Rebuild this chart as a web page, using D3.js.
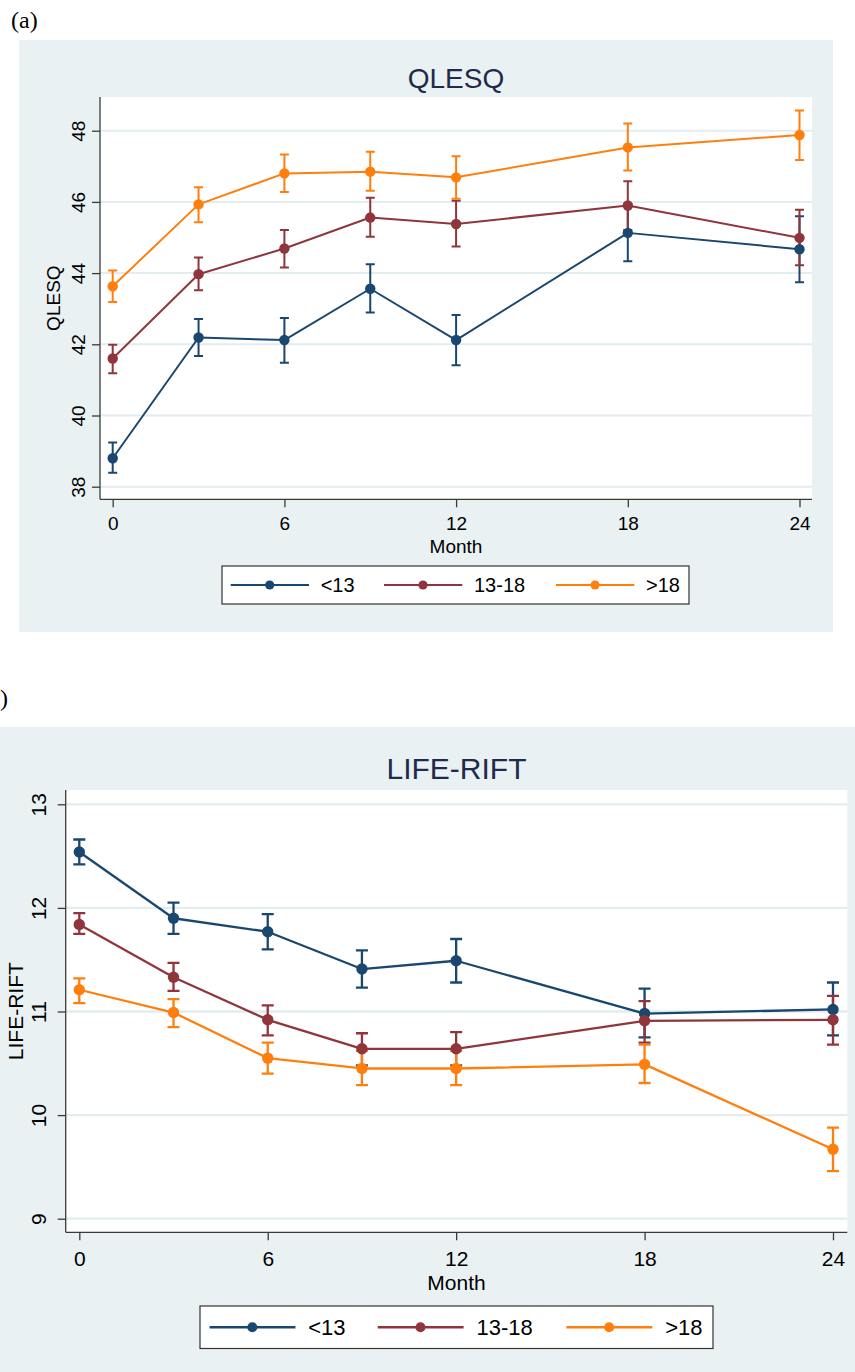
<!DOCTYPE html>
<html>
<head>
<meta charset="utf-8">
<script src="https://cdn.jsdelivr.net/npm/d3@7"></script>
<style>
  body { margin: 0; background: #fff; }
  svg { display: block; font-family: "Liberation Sans", Arial, sans-serif; }
</style>
</head>
<body>
<div class="chart"></div>
<script>
// ---- data ----
const months = [0, 3, 6, 9, 12, 18, 24];
const groups = ["<13", "13-18", ">18"];
const colors = ["#1a476f", "#90353b", "#ff7f0e"];

// panel (a) QLESQ
const qlesqTicks = [38, 40, 42, 44, 46, 48];
const qlesqLt13   = [38.80, 42.19, 42.12, 43.56, 42.12, 45.13, 44.67];
const qlesqLt13Lo = [38.39, 41.67, 41.48, 42.89, 41.41, 44.33, 43.74];
const qlesqLt13Hi = [39.24, 42.71, 42.74, 44.25, 42.82, 45.93, 45.60];
const qlesqMid    = [41.60, 43.97, 44.69, 45.56, 45.38, 45.90, 44.99];
const qlesqMidLo  = [41.19, 43.52, 44.16, 45.02, 44.75, 45.21, 44.22];
const qlesqMidHi  = [41.99, 44.44, 45.21, 46.12, 46.03, 46.58, 45.78];
const qlesqGt18   = [43.63, 45.93, 46.80, 46.85, 46.69, 47.53, 47.88];
const qlesqGt18Lo = [43.19, 45.43, 46.28, 46.31, 46.09, 46.88, 47.18];
const qlesqGt18Hi = [44.07, 46.41, 47.33, 47.41, 47.28, 48.20, 48.57];

// panel (b) LIFE-RIFT
const riftTicks = [9, 10, 11, 12, 13];
const riftLt13   = [12.54, 11.90, 11.77, 11.41, 11.49, 10.98, 11.02];
const riftLt13Lo = [12.42, 11.75, 11.60, 11.23, 11.28, 10.75, 10.77];
const riftLt13Hi = [12.66, 12.05, 11.94, 11.59, 11.70, 11.22, 11.28];
const riftMid    = [11.84, 11.33, 10.92, 10.64, 10.64, 10.91, 10.92];
const riftMidLo  = [11.75, 11.20, 10.77, 10.48, 10.48, 10.70, 10.68];
const riftMidHi  = [11.95, 11.47, 11.06, 10.79, 10.80, 11.10, 11.15];
const riftGt18   = [11.21, 10.99, 10.55, 10.45, 10.45, 10.49, 9.67];
const riftGt18Lo = [11.08, 10.85, 10.40, 10.29, 10.29, 10.31, 9.46];
const riftGt18Hi = [11.32, 11.12, 10.70, 10.62, 10.62, 10.68, 9.88];

const xTicks = [0, 6, 12, 18, 24];

const svg = d3.select(".chart")
  .append("svg")
  .attr("width", 855)
  .attr("height", 1372);

const bgColor = "#eaf1f3", gridColor = "#e3ecef", axisColor = "#3a3a3a", titleColor = "#1e2b4d";

// panel letters (Times-like); the second one is cropped in the source, only ")" shows
svg.append("text").attr("x", 11).attr("y", 28)
  .attr("font-family", "'Liberation Serif', 'Times New Roman', serif")
  .attr("font-size", 24).text("(a)");
svg.append("text").attr("x", 0).attr("y", 706)
  .attr("font-family", "'Liberation Serif', 'Times New Roman', serif")
  .attr("font-size", 24).text(")");

drawPanel({
  title: "QLESQ", yTitle: "QLESQ", yTicks: qlesqTicks, yDomain: [38, 48],
  mean: [qlesqLt13, qlesqMid, qlesqGt18],
  lo: [qlesqLt13Lo, qlesqMidLo, qlesqGt18Lo],
  hi: [qlesqLt13Hi, qlesqMidHi, qlesqGt18Hi],
  bg: [19, 40, 814, 592],
  plot: {l: 100, r: 812, t: 97, b: 499.3},
  xRange: [112.7, 799.5], yRange: [486.7, 130.7],
  fs: 19, titleFs: 28, titleY: 88.3,
  yTitleX: 60, yLabOff: 15.5, xLabDy: 31.2, monthY: 552.5,
  leg: {x: 222, y: 566, w: 467, h: 38, k: 1},
  r: 5.2, lw: 2, cap: 4.5
});

drawPanel({
  title: "LIFE-RIFT", yTitle: "LIFE-RIFT", yTicks: riftTicks, yDomain: [9, 13],
  mean: [riftLt13, riftMid, riftGt18],
  lo: [riftLt13Lo, riftMidLo, riftGt18Lo],
  hi: [riftLt13Hi, riftMidHi, riftGt18Hi],
  bg: [0, 727, 855, 645],
  plot: {l: 65.7, r: 847.3, t: 790, b: 1232.3},
  xRange: [79.3, 833], yRange: [1218.7, 804.3],
  fs: 21, titleFs: 30, titleY: 779.3,
  yTitleX: 23, yLabOff: 20, xLabDy: 33.8, monthY: 1290,
  leg: {x: 200, y: 1306, w: 513, h: 42.5, k: 1.097},
  r: 5.7, lw: 2.3, cap: 6
});

function drawPanel(p) {
  const g = svg.append("g");
  const pl = p.plot;
  const cx = (pl.l + pl.r) / 2;

  g.append("rect")
    .attr("x", p.bg[0]).attr("y", p.bg[1])
    .attr("width", p.bg[2]).attr("height", p.bg[3])
    .attr("fill", bgColor);
  g.append("rect")
    .attr("x", pl.l).attr("y", pl.t)
    .attr("width", pl.r - pl.l).attr("height", pl.b - pl.t)
    .attr("fill", "#fff");

  const x = d3.scaleLinear().domain([0, 24]).range(p.xRange);
  const y = d3.scaleLinear().domain(p.yDomain).range(p.yRange);

  // grid
  g.append("g")
    .selectAll("line")
    .data(p.yTicks)
    .join("line")
      .attr("x1", pl.l).attr("x2", pl.r)
      .attr("y1", d => y(d)).attr("y2", d => y(d))
      .attr("stroke", gridColor)
      .attr("stroke-width", p.lw);

  // y axis
  g.append("g")
    .attr("transform", `translate(${pl.l},0)`)
    .call(d3.axisLeft(y).tickValues(p.yTicks).tickSize(8).tickFormat(d3.format("d")))
    .call(a => a.select(".domain").attr("d", `M0,${pl.t}V${pl.b}`))
    .call(a => a.selectAll("line, path").attr("stroke", axisColor).attr("stroke-width", 1.3))
    .call(a => a.selectAll("text")
      .attr("x", 0).attr("dy", 0)
      .attr("y", -p.yLabOff)
      .attr("transform", "rotate(-90)")
      .attr("text-anchor", "middle")
      .attr("fill", "#000")
      .attr("font-size", p.fs));

  // x axis
  g.append("g")
    .attr("transform", `translate(0,${pl.b})`)
    .call(d3.axisBottom(x).tickValues(xTicks).tickSize(8))
    .call(a => a.select(".domain").attr("d", `M${pl.l},0H${pl.r}`))
    .call(a => a.selectAll("line, path").attr("stroke", axisColor).attr("stroke-width", 1.3))
    .call(a => a.selectAll("text")
      .attr("y", p.xLabDy).attr("dy", 0)
      .attr("fill", "#000")
      .attr("font-size", p.fs));

  // titles
  g.append("text")
    .attr("x", cx).attr("y", p.titleY)
    .attr("text-anchor", "middle")
    .attr("fill", titleColor)
    .attr("font-size", p.titleFs)
    .text(p.title);
  g.append("text")
    .attr("transform", `translate(${p.yTitleX},${(pl.t + pl.b) / 2}) rotate(-90)`)
    .attr("text-anchor", "middle")
    .attr("font-size", p.fs)
    .text(p.yTitle);
  g.append("text")
    .attr("x", cx).attr("y", p.monthY)
    .attr("text-anchor", "middle")
    .attr("font-size", p.fs)
    .text("Month");

  // confidence caps
  groups.forEach((grp, i) => {
    const ci = g.append("g").attr("stroke", colors[i]).attr("stroke-width", p.lw).attr("fill", "none");
    months.forEach((m, j) => {
      const xm = x(m), y0 = y(p.lo[i][j]), y1 = y(p.hi[i][j]);
      ci.append("path")
        .attr("d", `M${xm},${y0}V${y1}M${xm - p.cap},${y0}H${xm + p.cap}M${xm - p.cap},${y1}H${xm + p.cap}`);
    });
  });

  // connected lines + markers
  const line = d3.line().x((d, j) => x(months[j])).y(d => y(d));
  groups.forEach((grp, i) => {
    g.append("path")
      .datum(p.mean[i])
      .attr("fill", "none")
      .attr("stroke", colors[i])
      .attr("stroke-width", p.lw)
      .attr("stroke-linejoin", "round")
      .attr("d", line);
    g.append("g")
      .selectAll("circle")
      .data(p.mean[i])
      .join("circle")
        .attr("cx", (d, j) => x(months[j]))
        .attr("cy", d => y(d))
        .attr("r", p.r)
        .attr("fill", colors[i]);
  });

  // legend
  const L = p.leg, k = L.k;
  const lg = g.append("g").attr("transform", `translate(${L.x},${L.y})`);
  lg.append("rect")
    .attr("width", L.w).attr("height", L.h)
    .attr("fill", "#fff")
    .attr("stroke", "#333")
    .attr("stroke-width", 1.2);
  const starts = [8.7, 162, 334];
  groups.forEach((grp, i) => {
    const s = starts[i] * k, ym = L.h / 2;
    lg.append("line")
      .attr("x1", s).attr("x2", s + 78.3 * k)
      .attr("y1", ym).attr("y2", ym)
      .attr("stroke", colors[i]).attr("stroke-width", p.lw);
    lg.append("circle")
      .attr("cx", s + 39 * k).attr("cy", ym)
      .attr("r", 4.6 * k).attr("fill", colors[i]);
    lg.append("text")
      .attr("x", s + 90 * k).attr("y", ym)
      .attr("dy", "0.36em")
      .attr("font-size", p.fs + 1)
      .text(grp);
  });
}
</script>
</body>
</html>
